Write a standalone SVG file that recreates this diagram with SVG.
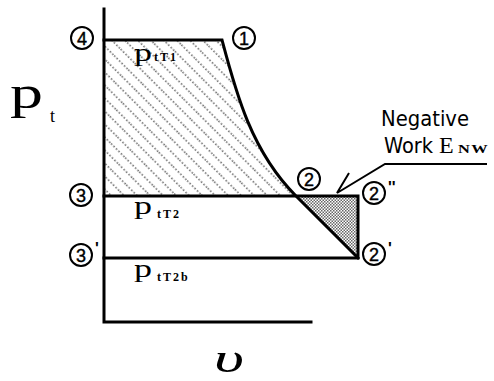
<svg xmlns="http://www.w3.org/2000/svg" width="494" height="381" viewBox="0 0 494 381">
<style>
.ln{fill:none;stroke:#000;stroke-width:3;stroke-linecap:square}
.cc{fill:none;stroke:#000;stroke-width:2}
.dg{font-family:"Liberation Sans",Arial,sans-serif;font-size:18px;text-anchor:middle;stroke:#000;stroke-width:0.4}
.pr{font-family:"Liberation Sans",Arial,sans-serif;font-size:16px;font-weight:bold}
.sf{font-family:"Liberation Serif","Times New Roman",serif}
.sub{font-family:"Liberation Serif","Times New Roman",serif;font-size:12px;font-weight:bold}
.lab{font-family:"DejaVu Sans Condensed","DejaVu Sans","Liberation Sans",sans-serif;font-size:22px}
</style>
<defs>
<pattern id="hatch" patternUnits="userSpaceOnUse" width="20" height="9.2" patternTransform="rotate(45)">
<line x1="0" y1="4.6" x2="20" y2="4.6" stroke="#000" stroke-width="1" stroke-dasharray="1.5,2"/>
</pattern>
<pattern id="dots" patternUnits="userSpaceOnUse" width="3" height="3">
<rect x="0" y="0" width="1.5" height="1.5" fill="#000"/>
<rect x="1.5" y="1.5" width="1.5" height="1.5" fill="#000"/>
</pattern>
</defs>
<rect width="494" height="381" fill="#fff"/>

<g id="areas">
<path d="M104,40 L222,40 C235.5,91 251,151 296,196 L104,196 Z" fill="url(#hatch)"/>
<path d="M298,196 L358,196 L358,258 Z" fill="url(#dots)" opacity="0.6"/>
</g>

<g id="axes">
<path class="ln" d="M104,9 L104,322 L311,322"/>
</g>

<g id="connectors">
<path class="ln" d="M104,40 L222,40 C235.5,91 251,151 296,196 L358,258"/>
<path class="ln" d="M104,196 L358,196 L358,258 L104,258"/>
<path d="M487,164 L385,164 L337,193 L349,173" fill="none" stroke="#000" stroke-width="2"/>
</g>

<g id="axis-labels">
<text class="sf" x="10" y="108" font-size="46" textLength="33" lengthAdjust="spacingAndGlyphs">p</text>
<text class="sf" x="50" y="122" font-size="18">t</text>
<text class="sf" x="214" y="372" font-size="42" font-style="italic" textLength="30" lengthAdjust="spacingAndGlyphs">υ</text>
</g>

<g id="p-labels">
<text x="134" y="61"><tspan class="sf" font-size="25" textLength="18" lengthAdjust="spacingAndGlyphs">p</tspan><tspan class="sub" dx="2" letter-spacing="2">tT1</tspan></text>
<text x="134" y="214"><tspan class="sf" font-size="25" textLength="18" lengthAdjust="spacingAndGlyphs">p</tspan><tspan class="sub" dx="5" dy="4" letter-spacing="2">tT2</tspan></text>
<text x="134" y="277"><tspan class="sf" font-size="25" textLength="18" lengthAdjust="spacingAndGlyphs">p</tspan><tspan class="sub" dx="5" dy="4" letter-spacing="2">tT2b</tspan></text>
</g>

<g id="n4"><circle class="cc" cx="82" cy="38" r="11"/><text class="dg" x="82" y="44.5">4</text></g>
<g id="n1"><circle class="cc" cx="244" cy="38" r="11"/><text class="dg" x="244" y="44.5">1</text></g>
<g id="n3"><circle class="cc" cx="81" cy="195" r="11"/><text class="dg" x="81" y="201.5">3</text></g>
<g id="n3p"><circle class="cc" cx="81" cy="255" r="11"/><text class="dg" x="81" y="261.5">3</text><text class="pr" x="95" y="254">'</text></g>
<g id="n2"><circle class="cc" cx="309" cy="179" r="11"/><text class="dg" x="309" y="185.5">2</text></g>
<g id="n2pp"><circle class="cc" cx="374" cy="193" r="11"/><text class="dg" x="374" y="199.5">2</text><text class="pr" x="388" y="193">''</text></g>
<g id="n2p"><circle class="cc" cx="374" cy="254" r="11"/><text class="dg" x="374" y="260.5">2</text><text class="pr" x="388" y="254">'</text></g>

<g id="neg-label">
<text class="lab" x="381" y="126" textLength="88" lengthAdjust="spacingAndGlyphs">Negative</text>
<text class="lab" x="384" y="153" textLength="49" lengthAdjust="spacingAndGlyphs">Work</text>
<text class="sf" x="439" y="153" font-size="24">E</text>
<text class="sub" x="458" y="153" font-size="11" letter-spacing="1" textLength="31" lengthAdjust="spacingAndGlyphs">NW</text>
</g>
</svg>
